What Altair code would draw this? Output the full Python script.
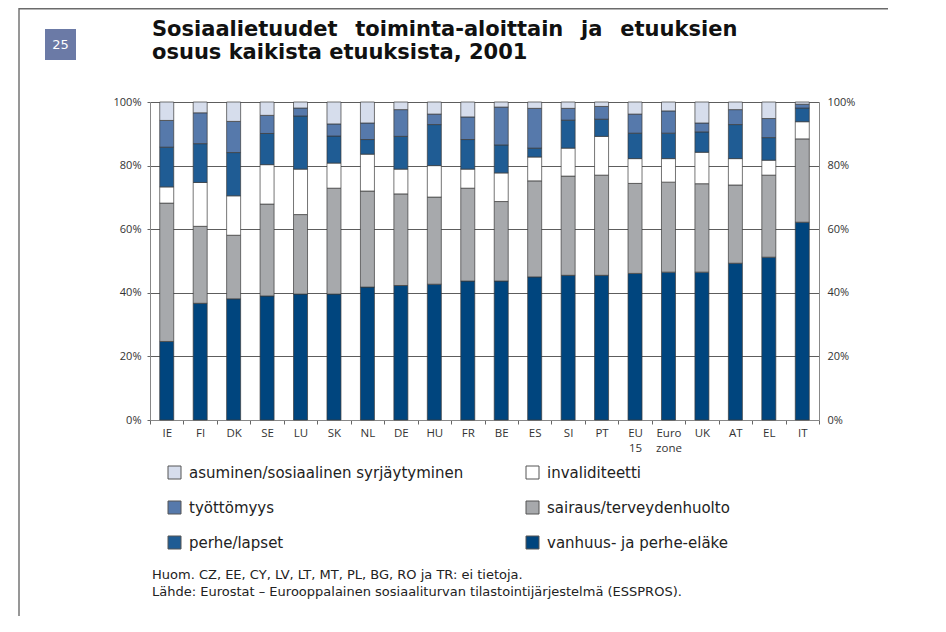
import altair as alt
import pandas as pd

categories = ["IE", "FI", "DK", "SE", "LU", "SK", "NL", "DE", "HU", "FR",
              "BE", "ES", "SI", "PT", "EU|15", "Euro|zone", "UK", "AT", "EL", "IT"]

# shares (%) from bottom of the stack to the top
vanhuus = [24.7, 36.7, 38.1, 39.0, 39.6, 39.6, 41.8, 42.3, 42.7, 43.7,
           43.7, 45.0, 45.5, 45.5, 46.1, 46.5, 46.5, 49.3, 51.2, 62.2]
sairaus = [43.5, 24.2, 20.0, 28.9, 25.0, 33.3, 30.2, 28.8, 27.4, 29.2,
           25.0, 30.2, 31.2, 31.5, 28.3, 28.3, 27.8, 24.6, 25.8, 26.2]
invalidit = [5.1, 13.8, 12.4, 12.4, 14.3, 7.9, 11.6, 7.8, 9.9, 6.0,
             9.0, 7.5, 8.8, 12.2, 7.8, 7.4, 9.9, 8.3, 4.7, 5.4]
perhe = [12.5, 12.2, 13.6, 9.8, 16.7, 8.5, 4.6, 10.3, 12.9, 9.3,
         8.8, 2.8, 8.8, 5.4, 8.0, 8.0, 6.4, 10.7, 7.1, 4.3]
tyottomyys = [8.4, 9.7, 9.8, 5.7, 2.5, 3.8, 5.2, 8.4, 3.3, 7.1,
              11.9, 12.5, 3.7, 4.0, 6.0, 7.0, 2.8, 4.7, 6.0, 1.2]
asuminen = [5.8, 3.4, 6.1, 4.2, 1.9, 6.9, 6.6, 2.4, 3.8, 4.7,
            1.6, 2.0, 2.0, 1.4, 3.8, 2.8, 6.6, 2.4, 5.2, 0.7]

series_names = ["vanhuus- ja perhe-eläke", "sairaus/terveydenhuolto", "invaliditeetti",
                "perhe/lapset", "työttömyys", "asuminen/sosiaalinen syrjäytyminen"]
series_values = [vanhuus, sairaus, invalidit, perhe, tyottomyys, asuminen]

# legend is laid out column by column
legend_order = ["asuminen/sosiaalinen syrjäytyminen", "työttömyys", "perhe/lapset",
                "invaliditeetti", "sairaus/terveydenhuolto", "vanhuus- ja perhe-eläke"]
legend_colors = ["#D6DDEC", "#5679AB", "#1F5C94", "#FFFFFF", "#A7A9AC", "#00457E"]

y_ticks = [0, 20, 40, 60, 80, 100]

GAP = "\u00a0\u2002"
title_text = ("Sosiaalietuudet" + GAP + "toiminta-aloittain" + GAP + "ja" + GAP + "etuuksien\n"
              "osuus kaikista etuuksista, 2001")
note_text = ("Huom. CZ, EE, CY, LV, LT, MT, PL, BG, RO ja TR: ei tietoja.\n"
             "Lähde: Eurostat – Eurooppalainen sosiaaliturvan tilastointijärjestelmä (ESSPROS).")

rows = []
for i, c in enumerate(categories):
    for k, (name, vals) in enumerate(zip(series_names, series_values)):
        rows.append({"maa": c, "ryhma": name, "osuus": vals[i], "jarj": k})
df = pd.DataFrame(rows)

FONT = "DejaVu Sans"
AXFONT = "Open Sans"

bars = alt.Chart(df).mark_bar(size=14, stroke="#3a3a3a", strokeWidth=0.7).encode(
    x=alt.X("maa:N", sort=categories,
            scale=alt.Scale(paddingInner=0, paddingOuter=0),
            axis=alt.Axis(title=None, labelAngle=0, tickBand="extent",
                          labelExpr="split(datum.label, '|')",
                          labelFont=AXFONT, labelFontSize=11.5, labelColor="#333",
                          labelPadding=3, labelLineHeight=15,
                          domainColor="#888", tickColor="#666", tickSize=4)),
    y=alt.Y("osuus:Q", stack="zero",
            scale=alt.Scale(domain=[0, 100]),
            axis=alt.Axis(title=None, values=y_ticks, labelExpr="datum.value + '%'",
                          grid=True, gridColor="#333", gridWidth=0.8,
                          labelFont=AXFONT, labelFontSize=11, labelColor="#333",
                          domainColor="#888", tickColor="#666", tickSize=3,
                          labelPadding=6)),
    color=alt.Color("ryhma:N",
                    scale=alt.Scale(domain=legend_order, range=legend_colors),
                    legend=alt.Legend(title=None, orient="none", legendX=17, legendY=363,
                                      columns=2, columnPadding=60, rowPadding=18,
                                      symbolType="square", symbolSize=169,
                                      symbolStrokeColor="#555", symbolStrokeWidth=1,
                                      symbolOpacity=1, labelFont=FONT, labelFontSize=15,
                                      labelColor="#222", labelOffset=7, labelLimit=400)),
    order=alt.Order("jarj:Q"),
)

right_axis = alt.Chart(pd.DataFrame({"v": y_ticks})).mark_rule(opacity=0).encode(
    y=alt.Y("v:Q", scale=alt.Scale(domain=[0, 100]),
            axis=alt.Axis(title=None, orient="right", values=y_ticks,
                          labelExpr="datum.value + '%'", grid=False, ticks=False,
                          labelFont=AXFONT, labelFontSize=11, labelColor="#333",
                          domainColor="#888", labelPadding=8)),
)

one = pd.DataFrame({"a": [0]})

frame_left = alt.Chart(one).mark_rule(color="#6b6b6b", strokeWidth=1.4).encode(
    x=alt.value(-131), y=alt.value(-94), y2=alt.value(530))
frame_top = alt.Chart(one).mark_rule(color="#6b6b6b", strokeWidth=1.4).encode(
    x=alt.value(-131), x2=alt.value(788), y=alt.value(-93.3))

badge = alt.Chart(one).mark_rect(color="#6B7AA6").encode(
    x=alt.value(-105), x2=alt.value(-74), y=alt.value(-73), y2=alt.value(-42))
badge_text = alt.Chart(one).mark_text(text="25", color="white", font=FONT, fontSize=13,
                                      align="center", baseline="middle").encode(
    x=alt.value(-89.5), y=alt.value(-57))

title = alt.Chart(one).mark_text(text=title_text, lineBreak="\n", font=FONT, fontSize=21,
                                 fontWeight="bold", color="#111", align="left",
                                 baseline="alphabetic", lineHeight=23).encode(
    x=alt.value(2), y=alt.value(-66))

note = alt.Chart(one).mark_text(text=note_text, lineBreak="\n", font=FONT, fontSize=13,
                                color="#222", align="left", baseline="alphabetic",
                                lineHeight=17).encode(
    x=alt.value(2), y=alt.value(476.5))

chart = alt.layer(bars, right_axis, frame_left, frame_top, badge, badge_text, title, note).resolve_axis(
    y="independent"
).properties(
    width=669, height=318,
    autosize=alt.AutoSizeParams(type="none"),
    padding={"left": 142, "top": 94, "right": 69, "bottom": 196},
    background="white",
).configure_view(stroke=None)

chart.save("out.html", embed_options={"renderer": "svg", "actions": False})
